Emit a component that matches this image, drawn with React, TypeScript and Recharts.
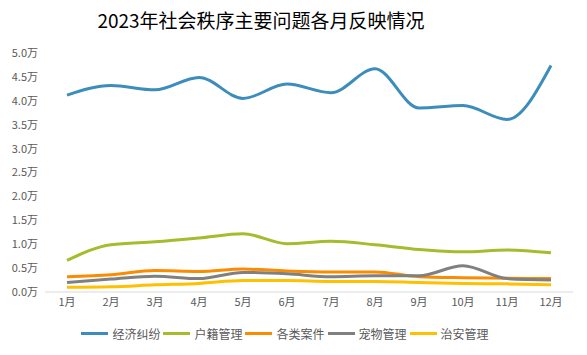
import { LineChart, Line, XAxis, YAxis, Legend } from "recharts";

const months = ["1月", "2月", "3月", "4月", "5月", "6月", "7月", "8月", "9月", "10月", "11月", "12月"];
const disputes = [41200, 43200, 42300, 44900, 40500, 43500, 41700, 46700, 38500, 39000, 36100, 47400];
const household = [6600, 9900, 10500, 11300, 12200, 10100, 10600, 9900, 8900, 8400, 8800, 8200];
const cases = [3200, 3600, 4500, 4300, 4800, 4400, 4200, 4200, 3200, 3000, 2900, 2800];
const pets = [2000, 2700, 3300, 2800, 4100, 3800, 3200, 3400, 3400, 5500, 2800, 2500];
const security = [1000, 1100, 1500, 1800, 2400, 2400, 2200, 2200, 2000, 1800, 1700, 1500];
const yTicks = [0, 5000, 10000, 15000, 20000, 25000, 30000, 35000, 40000, 45000, 50000];

const series = [
  { key: "经济纠纷", color: "#3c8dbc" },
  { key: "户籍管理", color: "#a5bc2c" },
  { key: "各类案件", color: "#fb8c00" },
  { key: "宠物管理", color: "#808080" },
  { key: "治安管理", color: "#ffc000" },
];

const data = months.map((m, i) => ({
  month: m,
  经济纠纷: disputes[i],
  户籍管理: household[i],
  各类案件: cases[i],
  宠物管理: pets[i],
  治安管理: security[i],
}));

const font = '"Noto Sans CJK SC", "Noto Sans", sans-serif';

function LegendRow() {
  return (
    <div style={{ display: "flex", justifyContent: "center", alignItems: "center", fontFamily: font, fontSize: 12, color: "#595959" }}>
      {series.map((s) => (
        <div key={s.key} style={{ display: "flex", alignItems: "center", marginRight: 3 }}>
          <span style={{ display: "inline-block", width: 27, height: 3, background: s.color, marginRight: 4 }} />
          <span>{s.key}</span>
        </div>
      ))}
    </div>
  );
}

export default function App() {
  return (
    <div style={{ position: "relative", width: 587, height: 355, background: "#fff" }}>
      <style>{`body{margin:0}`}</style>
      <div
        style={{
          position: "absolute",
          top: 6,
          left: 0,
          width: 522,
          textAlign: "center",
          fontFamily: font,
          fontSize: 19,
          color: "#000",
        }}
      >
        2023年社会秩序主要问题各月反映情况
      </div>
      <LineChart width={587} height={355} data={data} margin={{ top: 53, right: 14, left: 0, bottom: 16 }}>
        <XAxis
          dataKey="month"
          padding={{ left: 22, right: 22 }}
          axisLine={{ stroke: "#d9d9d9" }}
          tickLine={false}
          tickSize={0}
          tickMargin={6}
          tick={{ fill: "#595959", fontSize: 11, fontFamily: font }}
        />
        <YAxis
          width={45}
          domain={[0, 50000]}
          ticks={yTicks}
          interval={0}
          axisLine={false}
          tickLine={false}
          tickSize={0}
          tickMargin={7}
          tickFormatter={(v: number) => (v / 10000).toFixed(1) + "万"}
          tick={{ fill: "#595959", fontSize: 11, fontFamily: font }}
        />
        <Legend verticalAlign="bottom" wrapperStyle={{ bottom: 13 }} content={() => <LegendRow />} />
        {series.map((s) => (
          <Line
            key={s.key}
            type="monotone"
            dataKey={s.key}
            stroke={s.color}
            strokeWidth={3}
            dot={false}
            isAnimationActive={false}
          />
        ))}
      </LineChart>
    </div>
  );
}
